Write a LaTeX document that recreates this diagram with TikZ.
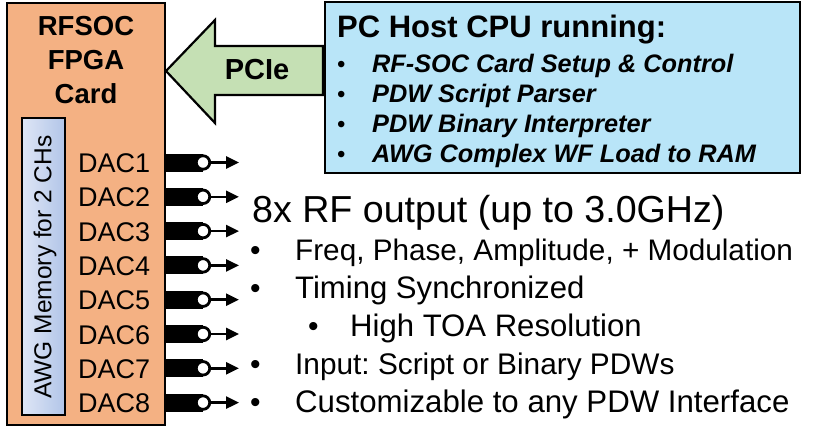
\documentclass[tikz,border=0pt]{standalone}
\usepackage{fontspec}
\setmainfont{Liberation Sans}
\usetikzlibrary{arrows.meta}
\definecolor{fpgaorange}{HTML}{F4B183}
\definecolor{pciegreen}{HTML}{C5E0B4}
\definecolor{hostblue}{RGB}{185,229,248}
\definecolor{memleft}{RGB}{222,230,246}
\definecolor{memright}{RGB}{178,197,232}
\newcommand\setfs[1]{\fontsize{#1}{#1}\selectfont}
\frenchspacing
\begin{document}
\begin{tikzpicture}[x=1pt,y=-1pt,
  box/.style={draw=black,line width=2.5pt,inner sep=0pt},
  txt/.style={inner sep=0pt,anchor=base west},
  ctxt/.style={inner sep=0pt,anchor=base},
  daclabel/.style={txt,font=\setfs{27}},
  rflist/.style={txt,font=\setfs{#1}},
  hostitem/.style={txt,font=\setfs{25.3}\bfseries\itshape},
  jack/.style={circle,draw=black,line width=2.8pt,fill=white,minimum size=13.5pt,inner sep=0pt},
  bar/.style={line width=18pt},
  outarrow/.style={line width=2.6pt,-{Triangle[length=13pt,width=12pt]}}
]
\useasboundingbox (0,0) rectangle (819,428);

% PCIe arrow (behind host box)
\fill[pciegreen,draw=black,line width=2.2pt,line join=miter]
  (323,46) -- (215,46) -- (215,20) -- (166,71) -- (215,123) -- (215,95) -- (323,95) -- cycle;
\node[ctxt,font=\setfs{29}\bfseries] (pcie) at (257,80) {PCIe};

% FPGA card
\node[box,fill=fpgaorange,minimum width=158pt,minimum height=422pt] (fpga) at (86,214) {};
\node[ctxt,font=\setfs{27.5}\bfseries] (ft1) at (86,36) {RFSOC};
\node[ctxt,font=\setfs{27.5}\bfseries] (ft2) at (86,70) {FPGA};
\node[ctxt,font=\setfs{27.5}\bfseries] (ft3) at (86,103) {Card};

% memory
\node[box,left color=memleft,right color=memright,minimum width=43pt,minimum height=297pt] (mem) at (43.5,266.5) {};
\node[rotate=90,inner sep=0pt,font=\setfs{24.5}] (memtxt) at (45,267) {AWG Memory for 2 CHs};

% host box
\node[box,fill=hostblue,minimum width=475pt,minimum height=171pt] (host) at (562.5,87.5) {};
\node[txt,font=\setfs{31}\bfseries] (hosttitle) at (337,38) {PC Host CPU running:};
\foreach \t [count=\i] in {RF-SOC Card Setup \& Control,PDW Script Parser,PDW Binary Interpreter,AWG Complex WF Load to RAM}{
  \node[txt,font=\setfs{24}] (hb\i) at (337,72+30*\i-30) {•};
  \node[hostitem] (hi\i) at (372,72+30*\i-30) {\t};
}

% DACs
\foreach \i in {1,...,8}{
  \pgfmathsetmacro\yy{162.5+34.3*(\i-1)}
  \node[daclabel] (dac\i) at (78,\yy+10) {DAC\i};
  \coordinate (c\i) at (203,\yy);
  \coordinate (t\i) at (239,\yy);
  \draw[bar] (fpga.east |- c\i) -- (c\i);
  \node[jack] (j\i) at (c\i) {};
  \draw[outarrow] (j\i) -- (t\i);
}

% RF output text
\node[txt,font=\setfs{37.6}] (rftitle) at (252,222) {8x RF output (up to 3.0GHz)};
\node[rflist=30] (b1) at (250,260) {•};
\node[rflist=29.7] (l1) at (295,260) {Freq, Phase, Amplitude, + Modulation};
\node[rflist=30] (b2) at (250,298) {•};
\node[rflist=31.1] (l2) at (295,298) {Timing Synchronized};
\node[rflist=30] (b3) at (308,336) {•};
\node[rflist=31.1] (l3) at (350,336) {High TOA Resolution};
\node[rflist=30] (b4) at (250,374) {•};
\node[rflist=29.8] (l4) at (295,374) {Input: Script or Binary PDWs};
\node[rflist=30] (b5) at (250,412) {•};
\node[rflist=31.2] (l5) at (295,412) {Customizable to any PDW Interface};
\end{tikzpicture}
\end{document}
